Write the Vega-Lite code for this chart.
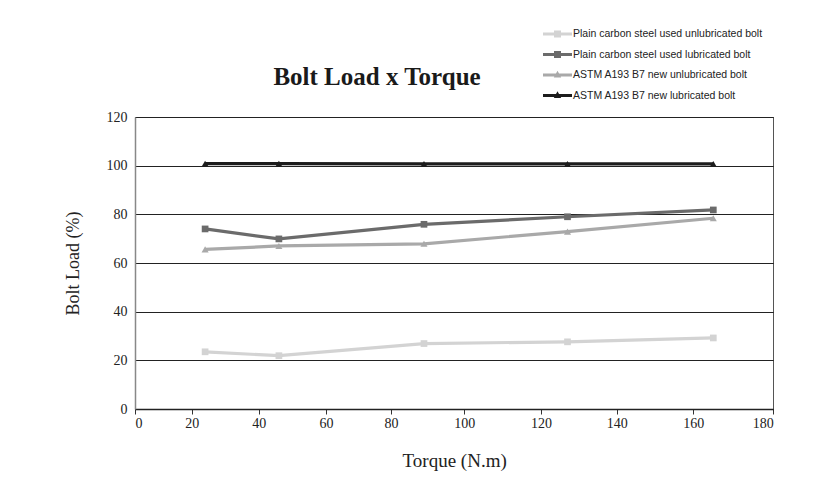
{
  "$schema": "https://vega.github.io/schema/vega-lite/v6.json",
  "width": 638,
  "height": 292,
  "autosize": "none",
  "padding": {"left": 135, "top": 117, "right": 46, "bottom": 77},
  "background": "white",
  "title": {"text": "Bolt Load x Torque", "font": "Liberation Serif", "fontSize": 25, "fontWeight": "bold", "color": "#1a1a1a", "anchor": "middle", "dx": -77, "offset": 0, "dy": 66},
  "data": {"values": [
    {"series": "Plain carbon steel used unlubricated bolt", "torque": 24, "load": 23.5},
    {"series": "Plain carbon steel used unlubricated bolt", "torque": 46, "load": 21.9},
    {"series": "Plain carbon steel used unlubricated bolt", "torque": 89, "load": 26.9},
    {"series": "Plain carbon steel used unlubricated bolt", "torque": 127, "load": 27.6},
    {"series": "Plain carbon steel used unlubricated bolt", "torque": 165, "load": 29.2},
    {"series": "Plain carbon steel used lubricated bolt", "torque": 24, "load": 74.0},
    {"series": "Plain carbon steel used lubricated bolt", "torque": 46, "load": 69.9},
    {"series": "Plain carbon steel used lubricated bolt", "torque": 89, "load": 75.9},
    {"series": "Plain carbon steel used lubricated bolt", "torque": 127, "load": 79.0},
    {"series": "Plain carbon steel used lubricated bolt", "torque": 165, "load": 81.8},
    {"series": "ASTM A193 B7 new unlubricated bolt", "torque": 24, "load": 65.6},
    {"series": "ASTM A193 B7 new unlubricated bolt", "torque": 46, "load": 67.0},
    {"series": "ASTM A193 B7 new unlubricated bolt", "torque": 89, "load": 67.9},
    {"series": "ASTM A193 B7 new unlubricated bolt", "torque": 127, "load": 72.9},
    {"series": "ASTM A193 B7 new unlubricated bolt", "torque": 165, "load": 78.4},
    {"series": "ASTM A193 B7 new lubricated bolt", "torque": 24, "load": 100.8},
    {"series": "ASTM A193 B7 new lubricated bolt", "torque": 46, "load": 100.8},
    {"series": "ASTM A193 B7 new lubricated bolt", "torque": 89, "load": 100.7},
    {"series": "ASTM A193 B7 new lubricated bolt", "torque": 127, "load": 100.7},
    {"series": "ASTM A193 B7 new lubricated bolt", "torque": 165, "load": 100.7}
  ]},
  "encoding": {
    "x": {
      "field": "torque", "type": "quantitative",
      "scale": {"domain": [0, 20, 40, 60, 80, 100, 120, 140, 160, 180], "range": [0, 56.7, 123.7, 191, 256, 329.3, 406, 481.7, 558.3, 638.3]},
      "axis": {"values": [0, 20, 40, 60, 80, 100, 120, 140, 160, 180], "title": "Torque (N.m)", "titleFontSize": 19, "grid": false, "domainColor": "#222", "domainWidth": 1.5, "ticks": true, "tickSize": 5, "tickColor": "#333", "labelPadding": 2, "titlePadding": 21}
    },
    "y": {
      "field": "load", "type": "quantitative",
      "scale": {"domain": [0, 120], "nice": false},
      "axis": {"values": [0, 20, 40, 60, 80, 100, 120], "title": "Bolt Load (%)", "titleFontSize": 18, "grid": true, "gridColor": "#222", "gridWidth": 1.2, "domainColor": "#888", "domainWidth": 1.5, "ticks": false, "labelPadding": 8, "titlePadding": 24}
    },
    "color": {
      "field": "series", "type": "nominal",
      "scale": {
        "domain": ["Plain carbon steel used unlubricated bolt", "Plain carbon steel used lubricated bolt", "ASTM A193 B7 new unlubricated bolt", "ASTM A193 B7 new lubricated bolt"],
        "range": ["#d3d3d3", "#6b6b6b", "#a9a9a9", "#1c1c1c"]
      },
      "legend": {
        "title": null, "orient": "none", "legendX": 412.5, "legendY": -93, "padding": 0,
        "symbolSize": 400, "rowPadding": 4.5, "labelOffset": 5.5,
        "labelFont": "Liberation Sans", "labelFontSize": 10.5, "labelColor": "#222", "labelLimit": 400,
        "encode": {"symbols": {"update": {
          "shape": {"signal": "indexof(datum.value, 'ASTM') >= 0 ? 'M-1.45,-0.15H1.45V0.15H-1.45Z M0,-0.42L0.37,0.25H-0.37Z' : 'M-1.45,-0.15H-0.35V-0.35H0.35V-0.15H1.45V0.15H0.35V0.35H-0.35V0.15H-1.45Z'"},
          "fill": {"scale": "color", "field": "value"},
          "stroke": {"value": "transparent"},
          "strokeWidth": {"value": 0},
          "opacity": {"value": 1}
        }}}
      }
    }
  },
  "layer": [
    {"mark": {"type": "line", "strokeWidth": 3.2}},
    {"transform": [{"filter": "indexof(datum.series, 'Plain') >= 0"}],
     "mark": {"type": "point", "shape": "square", "filled": true, "opacity": 1, "size": 45}},
    {"transform": [{"filter": "indexof(datum.series, 'ASTM') >= 0"}],
     "mark": {"type": "point", "shape": "triangle-up", "filled": true, "opacity": 1, "size": 50}}
  ],
  "config": {
    "view": {"stroke": "#555", "strokeWidth": 1},
    "axis": {"labelFont": "Liberation Serif", "labelFontSize": 14, "labelColor": "#222", "titleFont": "Liberation Serif", "titleFontSize": 17, "titleFontWeight": "normal", "titleColor": "#222"}
  }
}
